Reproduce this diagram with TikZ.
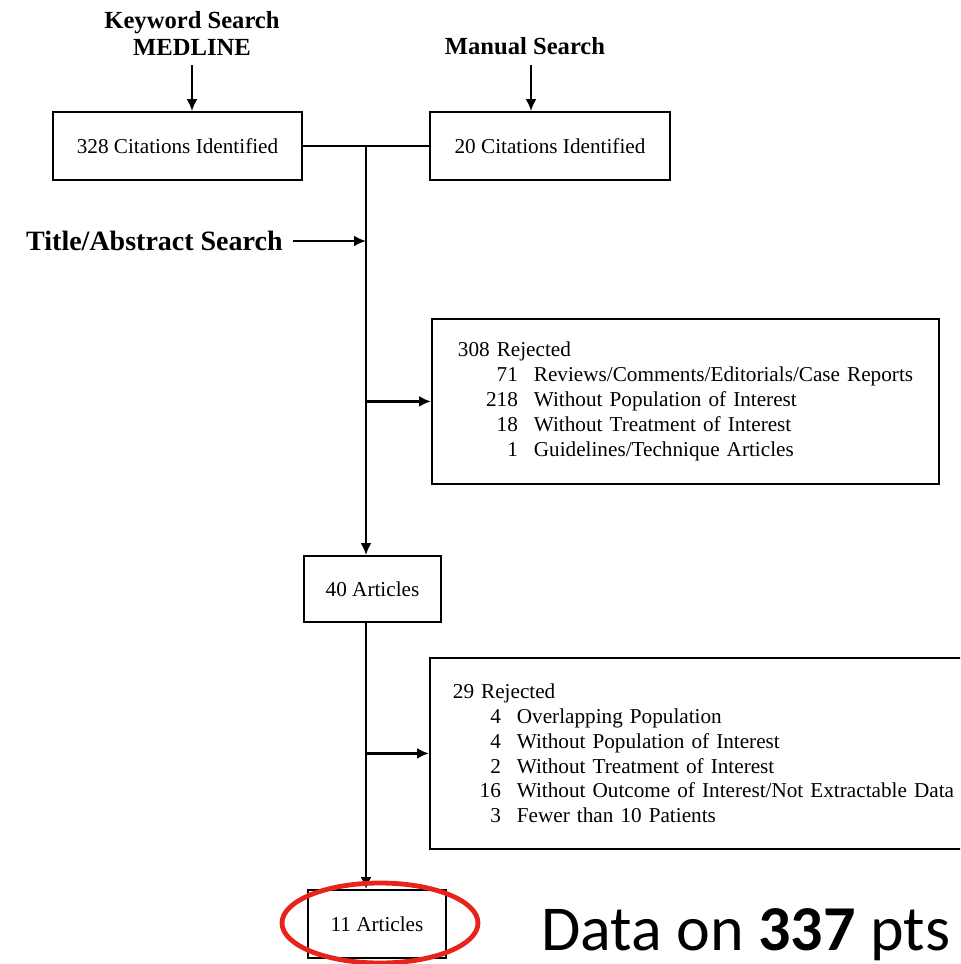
\documentclass[tikz,border=0pt]{standalone}
\usepackage{fontspec}
\setmainfont{Liberation Serif}
\newfontfamily\calibri{Carlito}
\usetikzlibrary{arrows.meta}

\definecolor{markred}{RGB}{232,36,26}
\newcommand{\rrow}[3]{\mbox{\makebox[#1][r]{#2}\hspace{8pt}#3}}

\tikzset{
  box/.style={draw,line width=0.9pt,minimum height=34pt,inner sep=0pt,font=\fontsize{10.6}{12}\selectfont},
  rejbox/.style={draw,line width=0.9pt,anchor=north west,align=left,font=\fontsize{10.6}{12.4}\selectfont},
  head/.style={font=\bfseries\fontsize{12.3}{13.5}\selectfont,align=center,inner sep=5pt},
  link/.style={line width=1.2pt},
  arr/.style={line width=1.2pt,-{Latex[length=6pt,width=5.5pt]}},
}

\begin{document}
\begin{tikzpicture}[x=0.5pt,y=-0.5pt]
    \useasboundingbox (0,0) rectangle (960,964);
    \clip (0,0) rectangle (960,964);

    % sources
    \node[head] (kw) at (192,33) {Keyword Search\\MEDLINE};
    \node[head] (ms) at (525,46) {Manual Search};
    \node[box,minimum width=124.5pt] (c328) at (177.5,146) {328 Citations Identified};
    \node[box,minimum width=120pt] (c20) at (550,146) {20 Citations Identified};
    \coordinate (j) at (366,146);

    \node[head,anchor=east,font=\bfseries\fontsize{14}{16}\selectfont] (tas) at (293,241) {Title/Abstract Search};

    % first screening
    \node[rejbox,inner xsep=13pt,text width=227.5pt,minimum height=82.5pt] (rej1) at (431,318) {%
        308 Rejected\\
        \rrow{30pt}{71}{Reviews/Comments/Editorials/Case Reports}\\
        \rrow{30pt}{218}{Without Population of Interest}\\
        \rrow{30pt}{18}{Without Treatment of Interest}\\
        \rrow{30pt}{1}{Guidelines/Technique Articles}};
    \node[box,minimum width=68.5pt,minimum height=33pt] (a40) at (372.5,589) {40 Articles};

    % second screening
    \node[rejbox,inner xsep=11.5pt,text width=257.5pt,minimum height=95.5pt] (rej2) at (429,657) {%
        29 Rejected\\
        \rrow{24pt}{4}{Overlapping Population}\\
        \rrow{24pt}{4}{Without Population of Interest}\\
        \rrow{24pt}{2}{Without Treatment of Interest}\\
        \rrow{24pt}{16}{Without Outcome of Interest/Not Extractable Data}\\
        \rrow{24pt}{3}{Fewer than 10 Patients}};
    \node[box,minimum width=69pt] (a11) at (377,924) {11 Articles};

    \node[anchor=base west,inner sep=0pt,font=\calibri\fontsize{32}{36}\selectfont] (pts) at (541,950) {Data on \textbf{337} pts};

    \draw[arr] (kw.south) -- (kw.south |- c328.north);
    \draw[arr] ([xshift=3pt]ms.south) -- ([xshift=3pt]ms.south |- c20.north);
    \draw[link] (c328.east) -- (c20.west);
    \draw[arr] (j) -- (j |- a40.north);
    \draw[arr] (tas.east) -- (j |- tas.east);
    \draw[arr] (j |- rej1.west) -- (rej1.west);
    \draw[arr] (j |- a40.south) -- (j |- a11.north);
    \draw[arr] (j |- rej2.west) -- (rej2.west);

    \draw[markred,line width=2.4pt] ([xshift=1.5pt,yshift=0.5pt]a11.center) ellipse [x radius=49pt,y radius=20pt];
\end{tikzpicture}
\end{document}
